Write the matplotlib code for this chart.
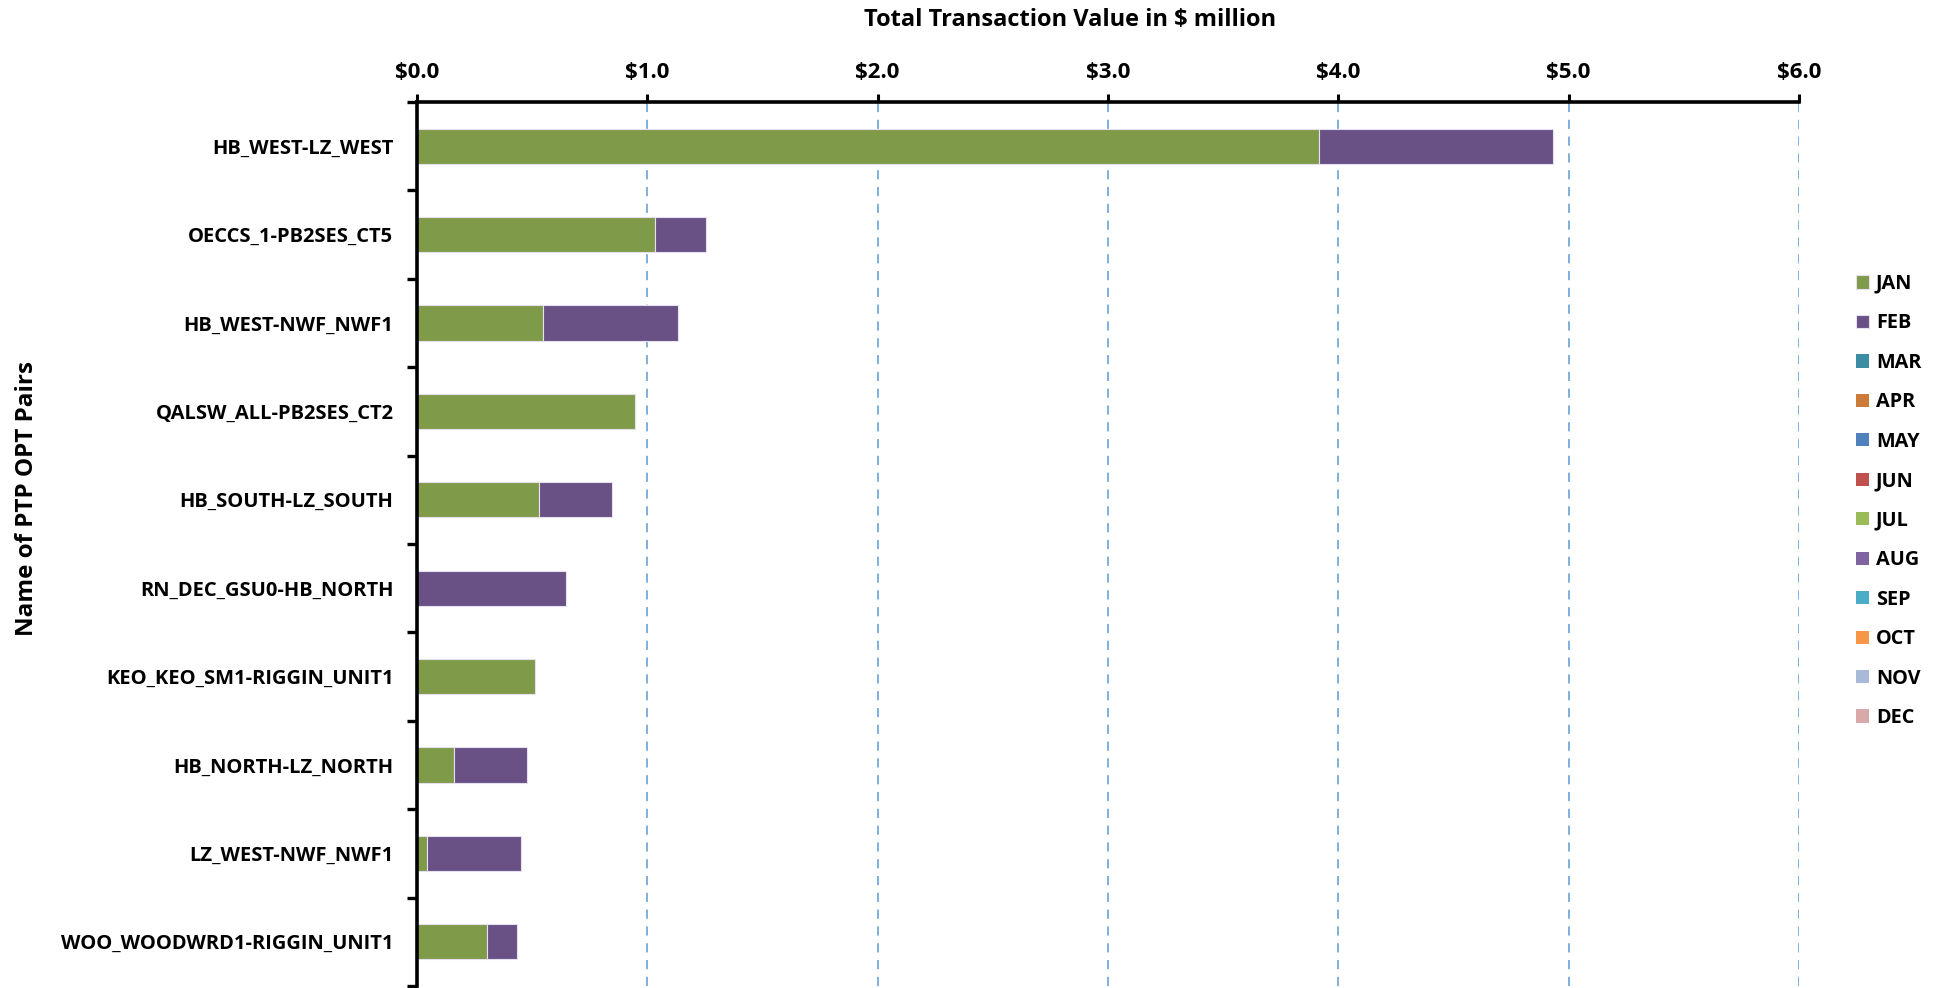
import numpy as np
import matplotlib
matplotlib.use("Agg")
import matplotlib.pyplot as plt
from matplotlib.ticker import FixedLocator, FuncFormatter

plt.rcParams['font.family'] = ['Open Sans', 'DejaVu Sans']
plt.rcParams['font.weight'] = 'bold'

# 数据
pairs = [
    "HB_WEST-LZ_WEST",
    "OECCS_1-PB2SES_CT5",
    "HB_WEST-NWF_NWF1",
    "QALSW_ALL-PB2SES_CT2",
    "HB_SOUTH-LZ_SOUTH",
    "RN_DEC_GSU0-HB_NORTH",
    "KEO_KEO_SM1-RIGGIN_UNIT1",
    "HB_NORTH-LZ_NORTH",
    "LZ_WEST-NWF_NWF1",
    "WOO_WOODWRD1-RIGGIN_UNIT1",
]
months = ["JAN", "FEB", "MAR", "APR", "MAY", "JUN",
          "JUL", "AUG", "SEP", "OCT", "NOV", "DEC"]
month_colors = ["#7F9A48", "#695185", "#3C8DA3", "#CC7B38", "#4F81BD", "#C0504D",
                "#9BBB59", "#8064A2", "#4BACC6", "#F79646", "#A9B9D8", "#D9A9A9"]

jan = [3.916, 1.033, 0.548, 0.946, 0.529, 0.0, 0.514, 0.161, 0.045, 0.303]
feb = [1.018, 0.221, 0.585, 0.0, 0.319, 0.648, 0.0, 0.316, 0.406, 0.130]
zeros = [0.0] * len(pairs)
values = [jan, feb] + [zeros] * 10

fig = plt.figure(figsize=(19.37, 9.88), dpi=100)
ax = fig.add_axes([417 / 1937, 2 / 988, 1382 / 1937, 884 / 988])

y = np.arange(len(pairs))
left = np.zeros(len(pairs))
for m, c, v in zip(months, month_colors, values):
    v = np.array(v)
    lw = np.where(v > 0, 0.8, 0.0)
    ax.barh(y, v, left=left, height=0.4, color=c, edgecolor="#E6E0EE",
            linewidth=lw, label=m, zorder=3)
    left = left + v

ax.set_xlim(0, 6)
ax.set_ylim(len(pairs) - 0.5, -0.5)

# x 轴在上方
ax.xaxis.tick_top()
ax.set_xticks(np.arange(0, 7, 1))
ax.xaxis.set_major_formatter(FuncFormatter(lambda v, p: f"${v:.1f}"))
ax.tick_params(axis="x", which="major", direction="out", length=6, width=2.2,
               labelsize=16, pad=8)
ax.grid(axis="x", color="#5B9BD5", linestyle=(0, (6, 5)), linewidth=1.1, zorder=0)

# y 轴: 主刻度在分隔处, 标签在次刻度
ax.yaxis.set_major_locator(FixedLocator(np.arange(-0.5, len(pairs), 1)))
ax.yaxis.set_major_formatter(FuncFormatter(lambda v, p: ""))
ax.yaxis.set_minor_locator(FixedLocator(y))
ax.set_yticklabels(pairs, minor=True)
ax.tick_params(axis="y", which="major", direction="out", length=7, width=2.4)
ax.tick_params(axis="y", which="minor", length=0, labelsize=14.5, pad=17)

for s in ["right", "bottom"]:
    ax.spines[s].set_visible(False)
ax.spines["top"].set_linewidth(2.6)
ax.spines["left"].set_linewidth(2.6)
ax.spines["top"].set_zorder(5)
ax.spines["left"].set_zorder(5)

fig.text(1070 / 1937, 1 - 20 / 988, "Total Transaction Value in $ million",
         ha="center", va="center", fontsize=17, fontweight="bold")
fig.text(27 / 1937, 1 - 498 / 988, "Name of PTP OPT Pairs", rotation=90,
         ha="center", va="center", fontsize=17.5, fontweight="bold")

ax.legend(loc="upper left", bbox_to_anchor=(1848 / 1937, 1 - 266 / 988),
          bbox_transform=fig.transFigure, frameon=False, fontsize=14.3,
          handlelength=0.65, handleheight=0.65, handletextpad=0.35,
          labelspacing=0.98, borderaxespad=0)

fig.savefig("out.png", dpi=100)
